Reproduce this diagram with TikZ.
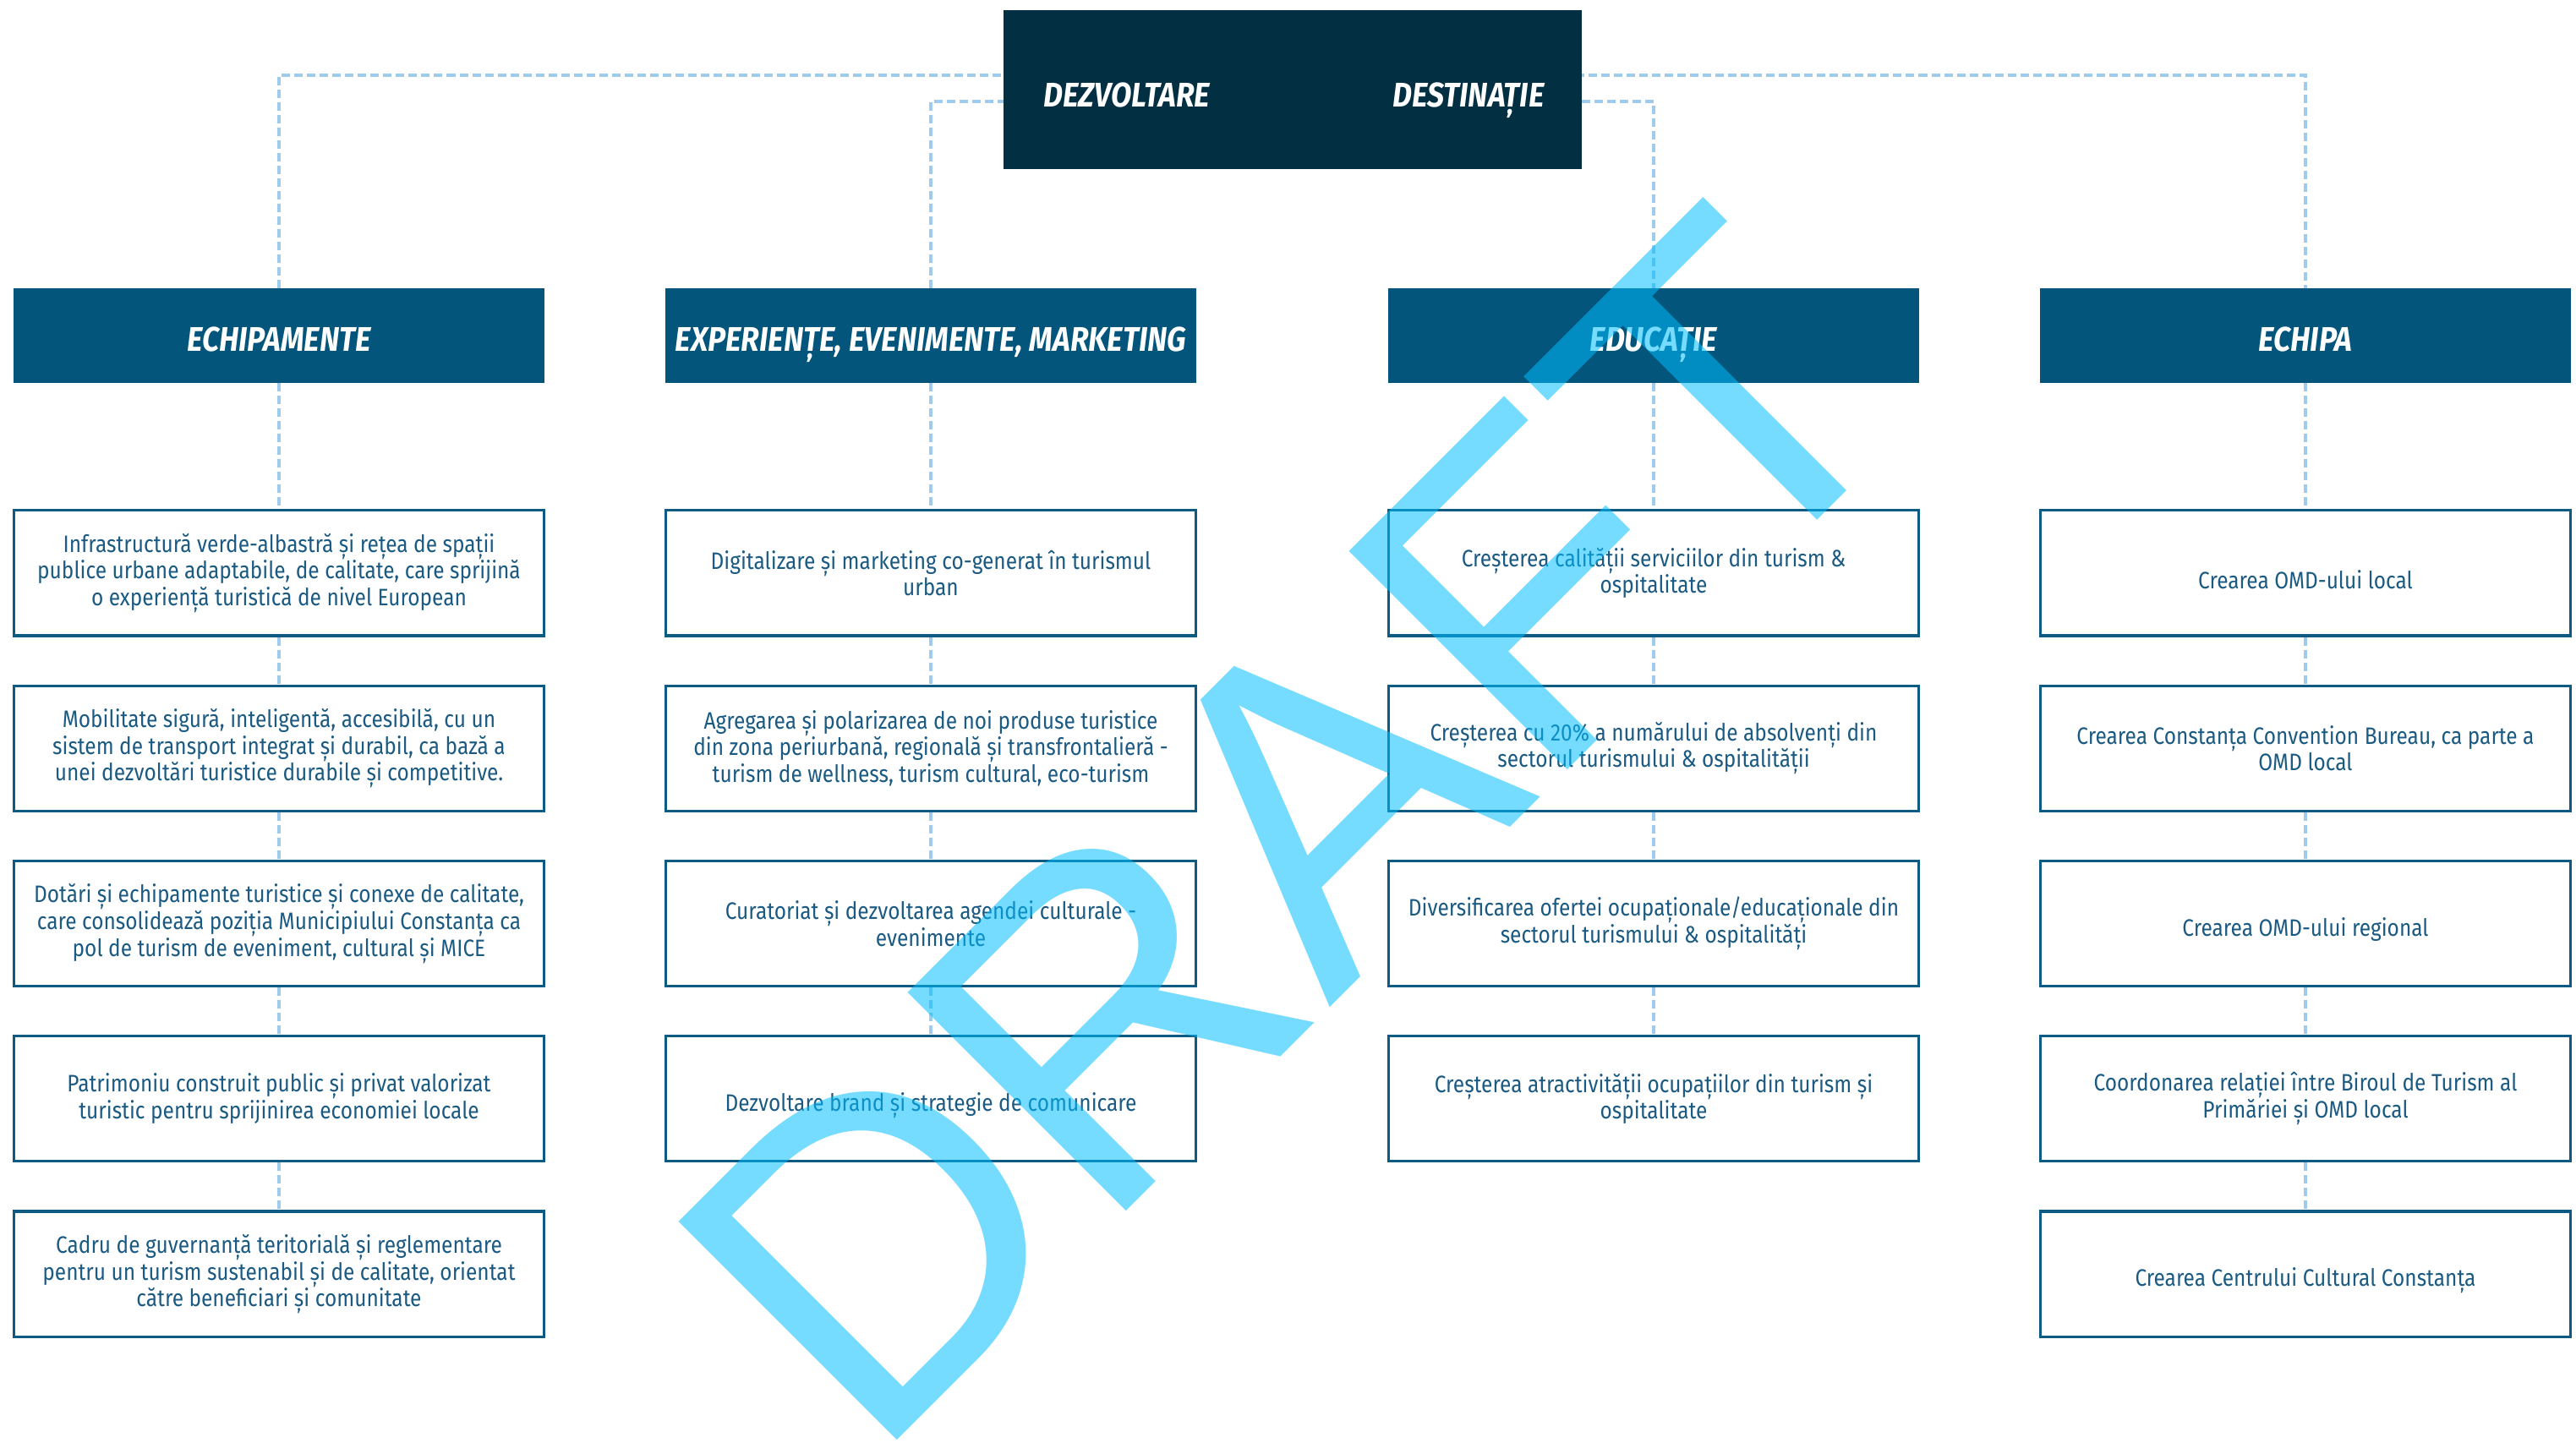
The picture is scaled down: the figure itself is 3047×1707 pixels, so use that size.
\documentclass[tikz,border=0pt]{standalone}
\usepackage{fontspec}
\newfontfamily\itemfont{Fira Sans}[FakeStretch=0.87]
\newfontfamily\headfont{Fira Sans}[FakeStretch=0.88]
\newfontfamily\markfont{Liberation Sans}
\usetikzlibrary{positioning,backgrounds}
\definecolor{rootfill}{HTML}{022F42}
\definecolor{headfill}{HTML}{03557C}
\definecolor{itemline}{HTML}{0D5A82}
\definecolor{itemtext}{HTML}{1B5A82}
\definecolor{linkcol}{HTML}{9FCCEC}
\definecolor{markcol}{RGB}{0,189,255}

\begin{document}
\begin{tikzpicture}[
    x=0.01cm, y=-0.01cm,
    node distance=5.6mm,
    rootbox/.style={fill=rootfill, minimum width=6.84cm, minimum height=1.88cm, inner sep=0pt},
    rootlabel/.style={text=white, inner sep=0pt, anchor=base, font=\headfont\bfseries\itshape\fontsize{11.5}{13}\selectfont},
    head/.style={fill=headfill, text=white, minimum width=6.27cm, minimum height=1.11cm, inner sep=0pt, text height=10.5pt, text depth=0pt, font=\headfont\bfseries\itshape\fontsize{11.5}{13}\selectfont},
    item/.style={draw=itemline, line width=0.9pt, fill=white, text=itemtext, align=center, minimum width=6.27cm, minimum height=1.48cm, inner sep=0pt, font=\itemfont\fontsize{8}{9}\selectfont, execute at begin node={\rule{0pt}{10.5pt}}},
    link/.style={draw=linkcol, line width=0.9pt, dash pattern=on 1mm off 0.5mm},
    draftmark/.style={text=markcol, opacity=0.54, inner sep=0pt, font=\markfont\fontsize{151}{151}\selectfont}
]
\useasboundingbox (0,0) rectangle (3047,1707);

% top
\node[rootbox] (root) at (1529,106) {};
\node[rootlabel] (dezv) at (1333,127) {DEZVOLTARE};
\node[rootlabel] (dest) at (1737,127) {DESTINAȚIE};
\coordinate (lt) at (0,89);
\coordinate (lb) at (0,120);

% column heads
\node[head] (echip) at (330,397) {ECHIPAMENTE};
\node[head] (exper) at (1101,397) {EXPERIENȚE, EVENIMENTE, MARKETING};
\node[head] (educ) at (1956,397) {EDUCAȚIE};
\node[head] (echipa) at (2727,397) {ECHIPA};

% echipamente
\node[item, below=14.9mm of echip] (echip1) {Infrastructură verde-albastră și rețea de spații\\publice urbane adaptabile, de calitate, care sprijină\\o experiență turistică de nivel European};
\node[item, below=of echip1] (echip2) {Mobilitate sigură, inteligentă, accesibilă, cu un\\sistem de transport integrat și durabil, ca bază a\\unei dezvoltări turistice durabile și competitive.};
\node[item, below=of echip2] (echip3) {Dotări și echipamente turistice și conexe de calitate,\\care consolidează poziția Municipiului Constanța ca\\pol de turism de eveniment, cultural și MICE};
\node[item, below=of echip3] (echip4) {Patrimoniu construit public și privat valorizat\\turistic pentru sprijinirea economiei locale};
\node[item, below=of echip4] (echip5) {Cadru de guvernanță teritorială și reglementare\\pentru un turism sustenabil și de calitate, orientat\\către beneficiari și comunitate};

% experiente
\node[item, below=14.9mm of exper] (exper1) {Digitalizare și marketing co-generat în turismul\\urban};
\node[item, below=of exper1] (exper2) {Agregarea și polarizarea de noi produse turistice\\din zona periurbană, regională și transfrontalieră -\\turism de wellness, turism cultural, eco-turism};
\node[item, below=of exper2] (exper3) {Curatoriat și dezvoltarea agendei culturale -\\evenimente};
\node[item, below=of exper3] (exper4) {Dezvoltare brand și strategie de comunicare};

% educatie
\node[item, below=14.9mm of educ] (educ1) {Creșterea calității serviciilor din turism \&\\ospitalitate};
\node[item, below=of educ1] (educ2) {Creșterea cu 20\% a numărului de absolvenți din\\sectorul turismului \& ospitalității};
\node[item, below=of educ2] (educ3) {Diversificarea ofertei ocupaționale/educaționale din\\sectorul turismului \& ospitalități};
\node[item, below=of educ3] (educ4) {Creșterea atractivității ocupațiilor din turism și\\ospitalitate};

% echipa
\node[item, below=14.9mm of echipa] (echipa1) {Crearea OMD-ului local};
\node[item, below=of echipa1] (echipa2) {Crearea Constanța Convention Bureau, ca parte a\\OMD local};
\node[item, below=of echipa2] (echipa3) {Crearea OMD-ului regional};
\node[item, below=of echipa3] (echipa4) {Coordonarea relației între Biroul de Turism al\\Primăriei și OMD local};
\node[item, below=of echipa4] (echipa5) {Crearea Centrului Cultural Constanța};

% dashed links
\begin{scope}[on background layer]
\draw[link] (echip.north) |- (echipa.north |- lt) -- (echipa.north);
\draw[link] (exper.north) |- (educ.north |- lb) -- (educ.north);
\draw[link] (echip.south) -- (echip1.north) (echip1.south) -- (echip2.north) (echip2.south) -- (echip3.north) (echip3.south) -- (echip4.north) (echip4.south) -- (echip5.north);
\draw[link] (exper.south) -- (exper1.north) (exper1.south) -- (exper2.north) (exper2.south) -- (exper3.north) (exper3.south) -- (exper4.north);
\draw[link] (educ.south) -- (educ1.north) (educ1.south) -- (educ2.north) (educ2.south) -- (educ3.north) (educ3.south) -- (educ4.north);
\draw[link] (echipa.south) -- (echipa1.north) (echipa1.south) -- (echipa2.north) (echipa2.south) -- (echipa3.north) (echipa3.south) -- (echipa4.north) (echipa4.south) -- (echipa5.north);
\end{scope}

% watermark
\node[draftmark, rotate=45, anchor=base west] (draft) at (1030,1735) {DRAFT};
\end{tikzpicture}
\end{document}
